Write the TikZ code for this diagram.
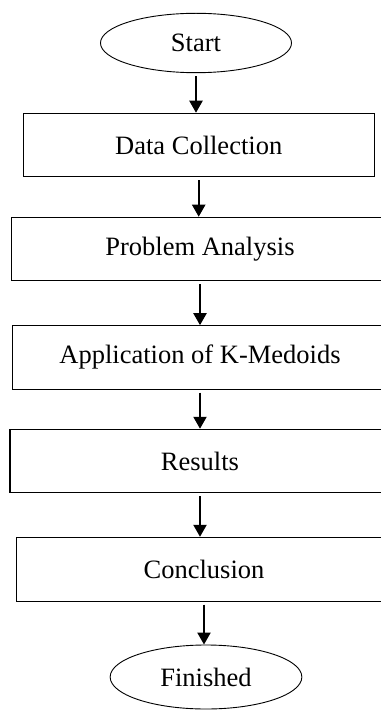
\documentclass[tikz,border=0pt]{standalone}
\usepackage{fontspec}
\setmainfont{Liberation Serif}
\usetikzlibrary{shapes.geometric,arrows.meta}
\begin{document}
\begin{tikzpicture}[x=1pt,y=-1pt,
  every node/.style={font=\fontsize{26.5}{30}\selectfont, inner sep=0pt},
  procbox/.style={draw, line width=1.1pt, rectangle},
  term/.style={draw, line width=0.9pt, ellipse},
  arr/.style={line width=2.2pt, -{Triangle[length=12pt,width=13pt]}, shorten <=3pt}]
\useasboundingbox (0,0) rectangle (380,711);
\node[term, minimum width=191pt, minimum height=59.4pt] (start) at (196,43) {Start};
\node[procbox, minimum width=350.7pt, minimum height=63.4pt] (data) at (198.7,145) {Data Collection};
\node[procbox, minimum width=376.3pt, minimum height=63.4pt] (prob) at (200,249) {Problem Analysis};
\node[procbox, minimum width=374.3pt, minimum height=63.3pt] (app) at (200,357.4) {Application of K-Medoids};
\node[procbox, minimum width=380pt, minimum height=63.4pt] (res) at (200,461) {Results};
\node[procbox, minimum width=374.3pt, minimum height=63.7pt] (conc) at (204,569.2) {Conclusion};
\node[term, minimum width=191.7pt, minimum height=64pt] (fin) at (206,677) {Finished};
\draw[arr] (start.south) -- (start.south |- data.north);
\draw[arr] (data.south) -- (data.south |- prob.north);
\draw[arr] (prob.south) -- (prob.south |- app.north);
\draw[arr] (app.south) -- (app.south |- res.north);
\draw[arr] (res.south) -- (res.south |- conc.north);
\draw[arr] (conc.south) -- (conc.south |- fin.north);
\end{tikzpicture}
\end{document}
